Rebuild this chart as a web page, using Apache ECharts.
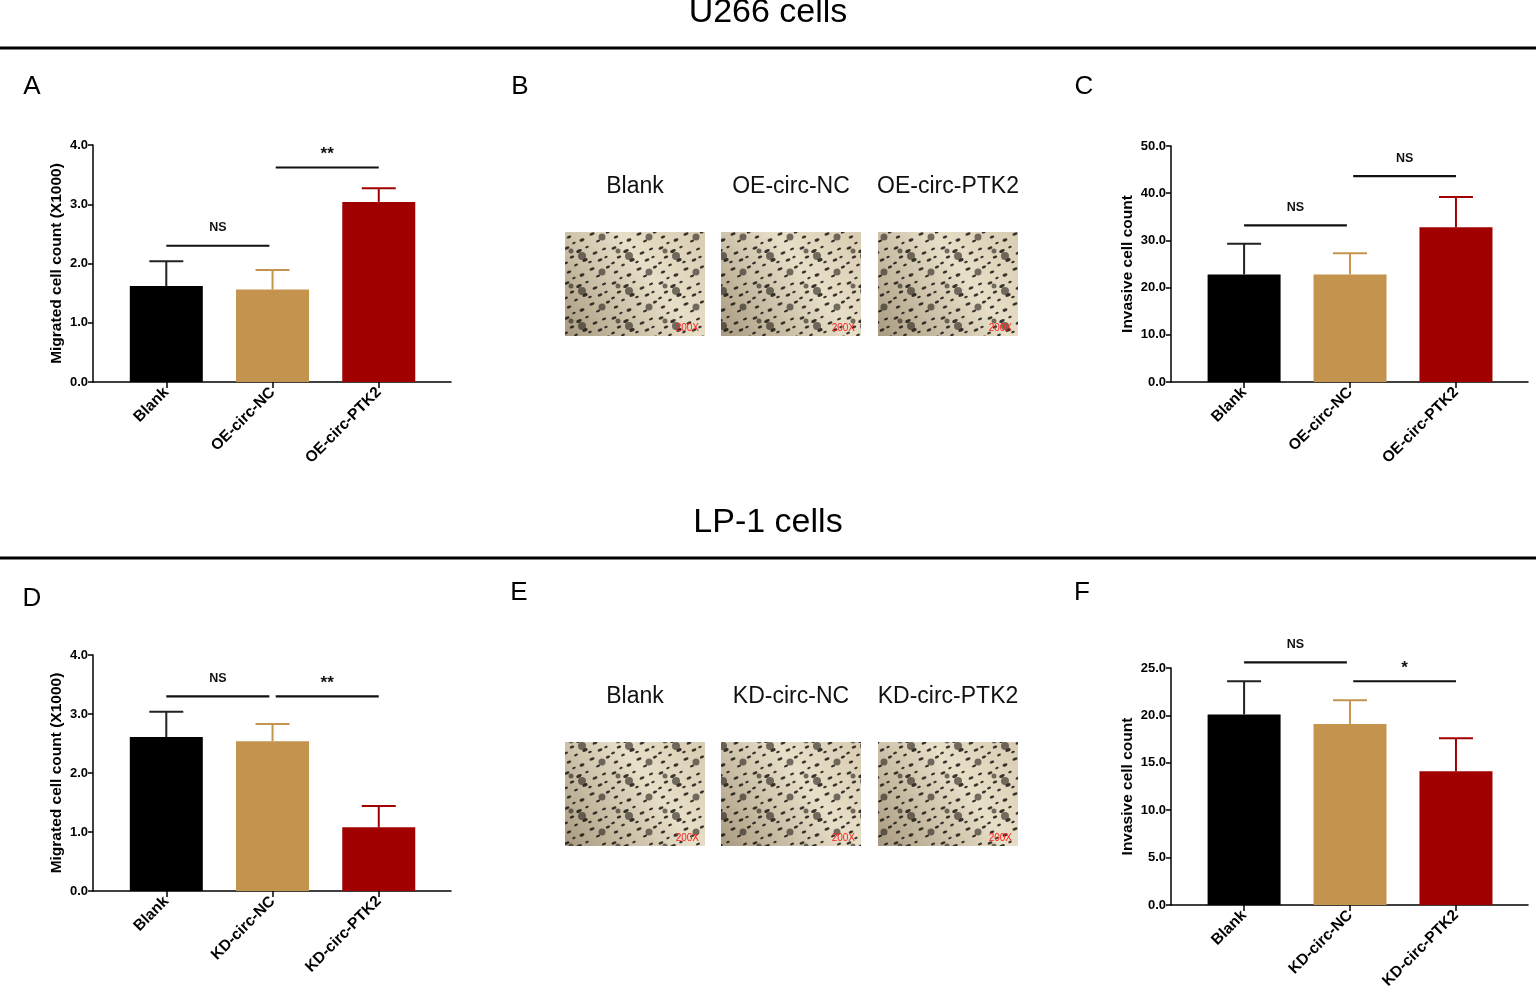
<!DOCTYPE html>
<html>
<head>
<meta charset="utf-8">
<script src="https://cdn.jsdelivr.net/npm/echarts@6/dist/echarts.min.js"></script>
<style>
  html, body { margin: 0; padding: 0; background: #fff; }
  #app { width: 1536px; height: 998px; }
</style>
</head>
<body>
<div id="app"></div>
<script>
// groups
const catsOE = ['Blank', 'OE-circ-NC', 'OE-circ-PTK2'];
const catsKD = ['Blank', 'KD-circ-NC', 'KD-circ-PTK2'];

// A: U266 migration (x1000)
const migU266 = [1.62, 1.56, 3.04];
const migU266Sd = [0.42, 0.33, 0.23];
// C: U266 invasion
const invU266 = [22.8, 22.8, 32.8];
const invU266Sd = [6.5, 4.5, 6.4];
// D: LP-1 migration (x1000)
const migLP1 = [2.61, 2.54, 1.08];
const migLP1Sd = [0.43, 0.29, 0.36];
// F: LP-1 invasion
const invLP1 = [20.1, 19.1, 14.1];
const invLP1Sd = [3.5, 2.5, 3.5];

// significance brackets: height and label for each
const bracketSpans = [[0, 0.97], [1.03, 2]];
const sigA = [2.30, 3.62], sigALab = ['NS', '**'];
const sigC = [33.2, 43.6], sigCLab = ['NS', 'NS'];
const sigD = [3.30, 3.30], sigDLab = ['NS', '**'];
const sigF = [25.6, 23.6], sigFLab = ['NS', '*'];

const barColors = ['#000000', '#c4944f', '#a00000'];
const errColors = ['#222222', '#c4944f', '#a00000'];
const FONT = 'Liberation Sans, Arial, sans-serif';

const myChart = echarts.init(document.getElementById('app'));

const grids = [
    { left: 93, top: 145, width: 358, height: 237 },
    { left: 1171, top: 146, width: 357, height: 236 },
    { left: 93, top: 655, width: 358, height: 236 },
    { left: 1171, top: 668, width: 357, height: 237 }
];

function xAxisFor(idx, cats) {
    return {
        type: 'value', gridIndex: idx, min: -0.69, max: 2.68,
        splitLine: { show: false },
        axisLine: { onZero: false, lineStyle: { color: '#000', width: 1.5 } },
        axisTick: { customValues: [0, 1, 2], length: 6, lineStyle: { color: '#000', width: 1.5 } },
        axisLabel: {
            customValues: [0, 1, 2], rotate: 45, margin: 8,
            formatter: v => cats[Math.round(v)],
            color: '#000', fontWeight: 'bold', fontSize: 15.5, fontFamily: FONT
        }
    };
}

function yAxisFor(idx, max, interval, name, gap) {
    return {
        type: 'value', gridIndex: idx, min: 0, max: max, interval: interval,
        name: name, nameLocation: 'middle', nameGap: gap,
        nameTextStyle: { color: '#000', fontWeight: 'bold', fontSize: 15.5, fontFamily: FONT },
        splitLine: { show: false },
        axisLine: { show: true, onZero: false, lineStyle: { color: '#000', width: 1.5 } },
        axisTick: { show: true, length: 5, lineStyle: { color: '#000', width: 1.5 } },
        axisLabel: {
            formatter: v => v.toFixed(1), margin: 5,
            color: '#000', fontWeight: 'bold', fontSize: 13, fontFamily: FONT
        }
    };
}

function barSeries(idx, means) {
    return {
        type: 'bar', xAxisIndex: idx, yAxisIndex: idx, barWidth: 73,
        data: means.map((m, i) => ({ value: [i, m], itemStyle: { color: barColors[i] } }))
    };
}

function errSeries(idx, means, sds) {
    return {
        type: 'custom', xAxisIndex: idx, yAxisIndex: idx,
        data: means.map((m, i) => [i, m, m + sds[i]]),
        renderItem: function (params, api) {
            const b = api.coord([api.value(0), api.value(1)]);
            const t = api.coord([api.value(0), api.value(2)]);
            const c = errColors[params.dataIndex];
            return {
                type: 'group',
                children: [
                    { type: 'line', shape: { x1: b[0], y1: b[1], x2: t[0], y2: t[1] }, style: { stroke: c, lineWidth: 2 } },
                    { type: 'line', shape: { x1: t[0] - 17, y1: t[1], x2: t[0] + 17, y2: t[1] }, style: { stroke: c, lineWidth: 2 } }
                ]
            };
        }
    };
}

function sigSeries(idx, heights, labels) {
    return {
        type: 'custom', xAxisIndex: idx, yAxisIndex: idx, clip: false,
        data: heights.map((h, i) => [bracketSpans[i][0], bracketSpans[i][1], h]),
        renderItem: function (params, api) {
            const p1 = api.coord([api.value(0), api.value(2)]);
            const p2 = api.coord([api.value(1), api.value(2)]);
            const lab = labels[params.dataIndex];
            const star = lab.indexOf('*') >= 0;
            return {
                type: 'group',
                children: [
                    { type: 'line', shape: { x1: p1[0], y1: p1[1], x2: p2[0], y2: p2[1] }, style: { stroke: '#111', lineWidth: 2.2 } },
                    {
                        type: 'text',
                        style: {
                            text: lab, x: (p1[0] + p2[0]) / 2, y: p1[1] - (star ? 13 : 18),
                            align: 'center', verticalAlign: 'middle',
                            fill: '#111', font: 'bold ' + (star ? 17 : 12.5) + 'px ' + FONT
                        }
                    }
                ]
            };
        }
    };
}

// texture for the micrograph placeholders (fixed layout of dark cells)
function cellPattern() {
    const cv = document.createElement('canvas');
    cv.width = 47; cv.height = 35;
    const ctx = cv.getContext('2d');
    const spots = [
        [3, 3, 2.6, 1.4], [15, 6, 3, 1.5], [8, 12, 2.4, 1.3], [21, 15, 2.8, 1.6], [12, 20, 2, 1.2],
        [23, 2, 1.8, 1.1], [31, 8, 2.6, 1.3], [40, 4, 2.2, 1.2], [36, 15, 2.5, 1.4], [44, 22, 2.3, 1.3],
        [28, 24, 2.7, 1.4], [5, 27, 2.4, 1.3], [18, 30, 2.6, 1.5], [34, 31, 2.2, 1.2], [42, 12, 1.8, 1.1],
        [26, 17, 1.9, 1.1], [10, 33, 1.8, 1.0], [2, 18, 2.0, 1.2]
    ];
    ctx.fillStyle = 'rgba(25,22,18,0.85)';
    spots.forEach(s => { ctx.beginPath(); ctx.ellipse(s[0], s[1], s[2], s[3], -0.4, 0, Math.PI * 2); ctx.fill(); });
    ctx.fillStyle = 'rgba(35,30,25,0.6)';
    [[18, 11, 4], [38, 27, 3.5], [7, 6, 2.5]].forEach(s => { ctx.beginPath(); ctx.arc(s[0], s[1], s[2], 0, Math.PI * 2); ctx.fill(); });
    return cv;
}
const pattern = cellPattern();

function photoPanel(labels, top) {
    const xs = [565, 721, 878];
    const out = [];
    labels.forEach((lab, i) => {
        out.push({
            type: 'text', style: { text: lab, x: xs[i] + 70, y: top - 45, align: 'center', verticalAlign: 'middle', fill: '#111', font: '23px ' + FONT }
        });
        out.push({
            type: 'rect', shape: { x: xs[i], y: top, width: 140, height: 104 },
            style: { fill: new echarts.graphic.LinearGradient(0, 1, 1, 0, [{ offset: 0, color: '#a89a80' }, { offset: 0.6, color: '#e8dfc8' }, { offset: 1, color: '#d8ccb2' }]) }
        });
        out.push({
            type: 'rect', shape: { x: xs[i], y: top, width: 140, height: 104 },
            style: { fill: { image: pattern, repeat: 'repeat' } }
        });
        out.push({
            type: 'text', style: { text: '200X', x: xs[i] + 134, y: top + 96, align: 'right', verticalAlign: 'middle', fill: '#ff2020', font: '10px ' + FONT }
        });
    });
    return out;
}

function label(t, x, y, size) {
    return { type: 'text', style: { text: t, x: x, y: y, align: 'center', verticalAlign: 'middle', fill: '#000', font: size + 'px ' + FONT } };
}

const graphics = [
    label('U266 cells', 768, 13, 34),
    { type: 'line', shape: { x1: 0, y1: 48, x2: 1536, y2: 48 }, style: { stroke: '#000', lineWidth: 3 } },
    label('A', 32, 87, 26), label('B', 520, 87, 26), label('C', 1084, 87, 26),
    label('LP-1 cells', 768, 523, 34),
    { type: 'line', shape: { x1: 0, y1: 558, x2: 1536, y2: 558 }, style: { stroke: '#000', lineWidth: 3 } },
    label('D', 32, 599, 26), label('E', 519, 593, 26), label('F', 1082, 593, 26)
].concat(photoPanel(catsOE, 232), photoPanel(catsKD, 742));

const option = {
    animation: false,
    grid: grids,
    xAxis: [xAxisFor(0, catsOE), xAxisFor(1, catsOE), xAxisFor(2, catsKD), xAxisFor(3, catsKD)],
    yAxis: [
        yAxisFor(0, 4, 1, 'Migrated cell count (X1000)', 28),
        yAxisFor(1, 50, 10, 'Invasive cell count', 35),
        yAxisFor(2, 4, 1, 'Migrated cell count (X1000)', 28),
        yAxisFor(3, 25, 5, 'Invasive cell count', 35)
    ],
    series: [
        barSeries(0, migU266), errSeries(0, migU266, migU266Sd), sigSeries(0, sigA, sigALab),
        barSeries(1, invU266), errSeries(1, invU266, invU266Sd), sigSeries(1, sigC, sigCLab),
        barSeries(2, migLP1), errSeries(2, migLP1, migLP1Sd), sigSeries(2, sigD, sigDLab),
        barSeries(3, invLP1), errSeries(3, invLP1, invLP1Sd), sigSeries(3, sigF, sigFLab)
    ],
    graphic: graphics
};

myChart.setOption(option);
</script>
</body>
</html>
